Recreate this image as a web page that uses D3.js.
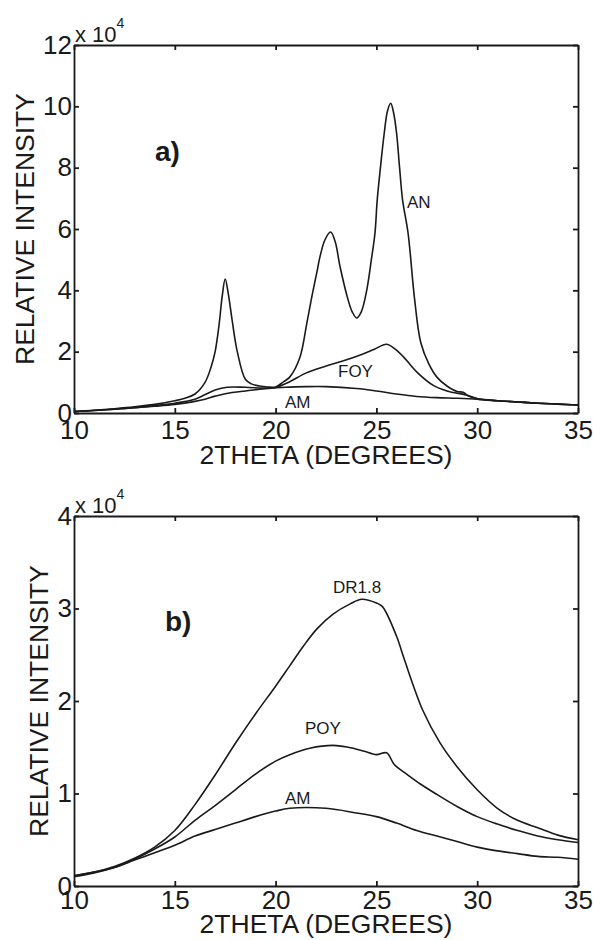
<!DOCTYPE html>
<html lang="en">
<head>
<meta charset="UTF-8">
<title>XRD patterns</title>
<script src="https://d3js.org/d3.v7.min.js"></script>
<style>
    body { margin: 0; background: #fff; }
    svg { display: block; font-family: "Liberation Sans", Arial, sans-serif; }
    .axis path, .axis line { stroke: #1a1a1a; stroke-width: 1.8px; }
    .axis text { fill: #1a1a1a; font-size: 26px; font-family: "Liberation Sans", Arial, sans-serif; }
    .curve { fill: none; stroke: #1a1a1a; stroke-width: 1.6px; }
    .title { fill: #1a1a1a; font-size: 26.5px; }
    .tag { fill: #1a1a1a; font-size: 17px; }
    .panel { fill: #1a1a1a; font-size: 28px; font-weight: bold; }
</style>
</head>
<body>
<div id="chart"></div>
<script>
// angle ticks, shared by both panels
const xTicks = [10, 15, 20, 25, 30, 35];
const topYTicks = [0, 2, 4, 6, 8, 10, 12];
const botYTicks = [0, 1, 2, 3, 4];

// intensities in units of 10^4
// panel a
const anData = [[10,0.05],[11,0.09],[12,0.14],[13,0.2],[14,0.28],[15,0.4],[15.5,0.48],[16,0.62],[16.5,1.0],
    [16.8,1.5],[17,2.0],[17.2,2.9],[17.35,3.8],[17.5,4.37],[17.65,3.9],[17.85,3.0],[18.1,2.0],[18.5,1.1],
    [18.8,0.95],[19.2,0.88],[19.6,0.85],[20,0.85],[20.4,1.02],[20.7,1.17],[21.2,1.8],[21.55,2.93],[21.8,3.8],
    [22.05,4.6],[22.2,5.09],[22.45,5.65],[22.73,5.9],[22.95,5.6],[23.2,4.76],[23.6,3.68],[23.8,3.3],[24.02,3.1],
    [24.25,3.3],[24.52,4.0],[24.75,5.0],[24.93,5.87],[25.04,6.94],[25.2,8.0],[25.39,9.13],[25.55,9.85],[25.71,10.1],
    [25.85,9.8],[26,9.13],[26.15,8.0],[26.3,6.94],[26.57,5.87],[26.9,3.68],[27.2,2.3],[27.6,1.6],[28,1.17],
    [28.5,0.88],[29,0.7],[29.3,0.68],[29.5,0.58],[30,0.46],[31,0.4],[32,0.36],[33,0.32],[34,0.29],[35,0.26]];
const foyData = [[10,0.05],[11,0.08],[12,0.12],[13,0.17],[14,0.24],[15,0.32],[16,0.45],[16.5,0.6],[17,0.75],
    [17.6,0.84],[18.5,0.84],[19.5,0.81],[20,0.83],[20.7,1.02],[21.5,1.3],[22.4,1.51],[23.2,1.67],[24.2,1.89],
    [24.9,2.08],[25.5,2.24],[25.9,2.1],[26.33,1.84],[26.7,1.56],[27.06,1.3],[27.8,0.91],[28.5,0.72],[29.5,0.58],
    [30,0.47],[31,0.4],[32,0.36],[33,0.32],[34,0.29],[35,0.26]];
const amTopData = [[10,0.05],[11,0.08],[12,0.12],[13,0.17],[14,0.22],[15,0.28],[16,0.38],[16.5,0.45],[17,0.55],
    [17.5,0.63],[18.5,0.72],[19.5,0.79],[20.5,0.84],[21.5,0.86],[22.5,0.86],[24,0.8],[25,0.72],[26,0.62],
    [27,0.54],[28,0.5],[29,0.48],[30,0.45],[31,0.4],[32,0.36],[33,0.32],[34,0.29],[35,0.26]];

// panel b
const drData = [[10,0.11],[11,0.15],[12,0.21],[13,0.3],[14,0.42],[15,0.6],[16,0.88],[17,1.2],[18,1.54],
    [19,1.86],[20,2.16],[20.7,2.38],[21.4,2.6],[22.05,2.78],[22.85,2.94],[23.7,3.05],[24.27,3.1],[25,3.06],
    [25.3,3.02],[26,2.7],[26.4,2.44],[27.3,1.9],[28.15,1.55],[29,1.29],[30,1.04],[31,0.84],[32,0.71],
    [33,0.63],[34,0.55],[35,0.5]];
const poyData = [[10,0.11],[11,0.15],[12,0.2],[13,0.29],[14,0.4],[15,0.53],[16,0.71],[17,0.87],[18,1.04],
    [19,1.21],[20,1.35],[20.7,1.42],[21.7,1.49],[22.85,1.52],[23.6,1.5],[24.35,1.46],[25,1.42],[25.5,1.44],
    [25.9,1.31],[26.5,1.21],[27.2,1.1],[28,0.99],[29,0.86],[30,0.75],[31,0.67],[32,0.6],[33,0.54],[34,0.5],[35,0.47]];
const amBotData = [[10,0.1],[11,0.14],[12,0.2],[13,0.28],[14,0.36],[15,0.44],[16,0.54],[17,0.61],[18,0.68],
    [19,0.75],[20,0.81],[20.7,0.84],[22.5,0.84],[24,0.79],[25,0.75],[26,0.68],[27,0.6],[28,0.54],[29,0.48],
    [30,0.42],[31,0.38],[32,0.35],[33,0.32],[34,0.31],[35,0.29]];

const width = 593, height = 940;
const svg = d3.select("#chart").append("svg")
    .attr("width", width)
    .attr("height", height);

function drawPanel(opt) {
    const x = d3.scaleLinear().domain([10, 35]).range([74, 578]);
    const y = d3.scaleLinear().domain([0, opt.yMax]).range([opt.bottom, opt.top]);
    const g = svg.append("g");

    const line = d3.line()
        .x(d => x(d[0]))
        .y(d => y(d[1]))
        .curve(d3.curveCatmullRom.alpha(0.5));

    opt.series.forEach(s => {
        g.append("path").attr("class", "curve").attr("d", line(s));
    });

    // box with inward ticks on all sides
    g.append("g").attr("class", "axis")
        .attr("transform", `translate(0,${opt.bottom})`)
        .call(d3.axisBottom(x).tickValues(xTicks).tickSize(-5).tickSizeOuter(0).tickPadding(opt.xPad));
    g.append("g").attr("class", "axis")
        .attr("transform", `translate(0,${opt.top})`)
        .call(d3.axisTop(x).tickValues(xTicks).tickSize(-5).tickSizeOuter(0).tickFormat(""));
    g.append("g").attr("class", "axis")
        .attr("transform", "translate(74,0)")
        .call(d3.axisLeft(y).tickValues(opt.yTicks).tickSize(-5).tickSizeOuter(0).tickPadding(2)
            .tickFormat(d3.format("d")));
    g.append("g").attr("class", "axis")
        .attr("transform", "translate(578,0)")
        .call(d3.axisRight(y).tickValues(opt.yTicks).tickSize(-5).tickSizeOuter(0).tickFormat(""));

    // exponent
    const ex = g.append("text").attr("x", 75).attr("y", opt.top - 3)
        .attr("fill", "#1a1a1a").style("font-size", "22px");
    ex.append("tspan").text("x 10");
    ex.append("tspan").attr("dy", -14).style("font-size", "14px").text("4");

    g.append("text").attr("class", "title")
        .attr("transform", `translate(${opt.yLabelX},${(opt.top + opt.bottom) / 2}) rotate(-90)`)
        .attr("text-anchor", "middle")
        .text("RELATIVE INTENSITY");
    g.append("text").attr("class", "title")
        .attr("x", 326).attr("y", opt.bottom + opt.xLabelGap)
        .attr("text-anchor", "middle")
        .text("2THETA (DEGREES)");

    g.append("text").attr("class", "panel")
        .attr("x", opt.panelPos[0]).attr("y", opt.panelPos[1])
        .text(opt.panel);

    opt.tags.forEach(t => {
        g.append("text").attr("class", "tag").attr("x", t[1]).attr("y", t[2]).text(t[0]);
    });
}

drawPanel({
    top: 45, bottom: 413, yMax: 12, yTicks: topYTicks, yLabelX: 34, xLabelGap: 51, xPad: 8,
    series: [anData, foyData, amTopData],
    panel: "a)", panelPos: [155, 161],
    tags: [["AN", 407, 208], ["FOY", 338, 377], ["AM", 285, 408]]
});

drawPanel({
    top: 516, bottom: 886, yMax: 4, yTicks: botYTicks, yLabelX: 48, xLabelGap: 47, xPad: 5,
    series: [drData, poyData, amBotData],
    panel: "b)", panelPos: [165, 631],
    tags: [["DR1.8", 333, 593], ["POY", 305, 734], ["AM", 285, 804]]
});
</script>
</body>
</html>
